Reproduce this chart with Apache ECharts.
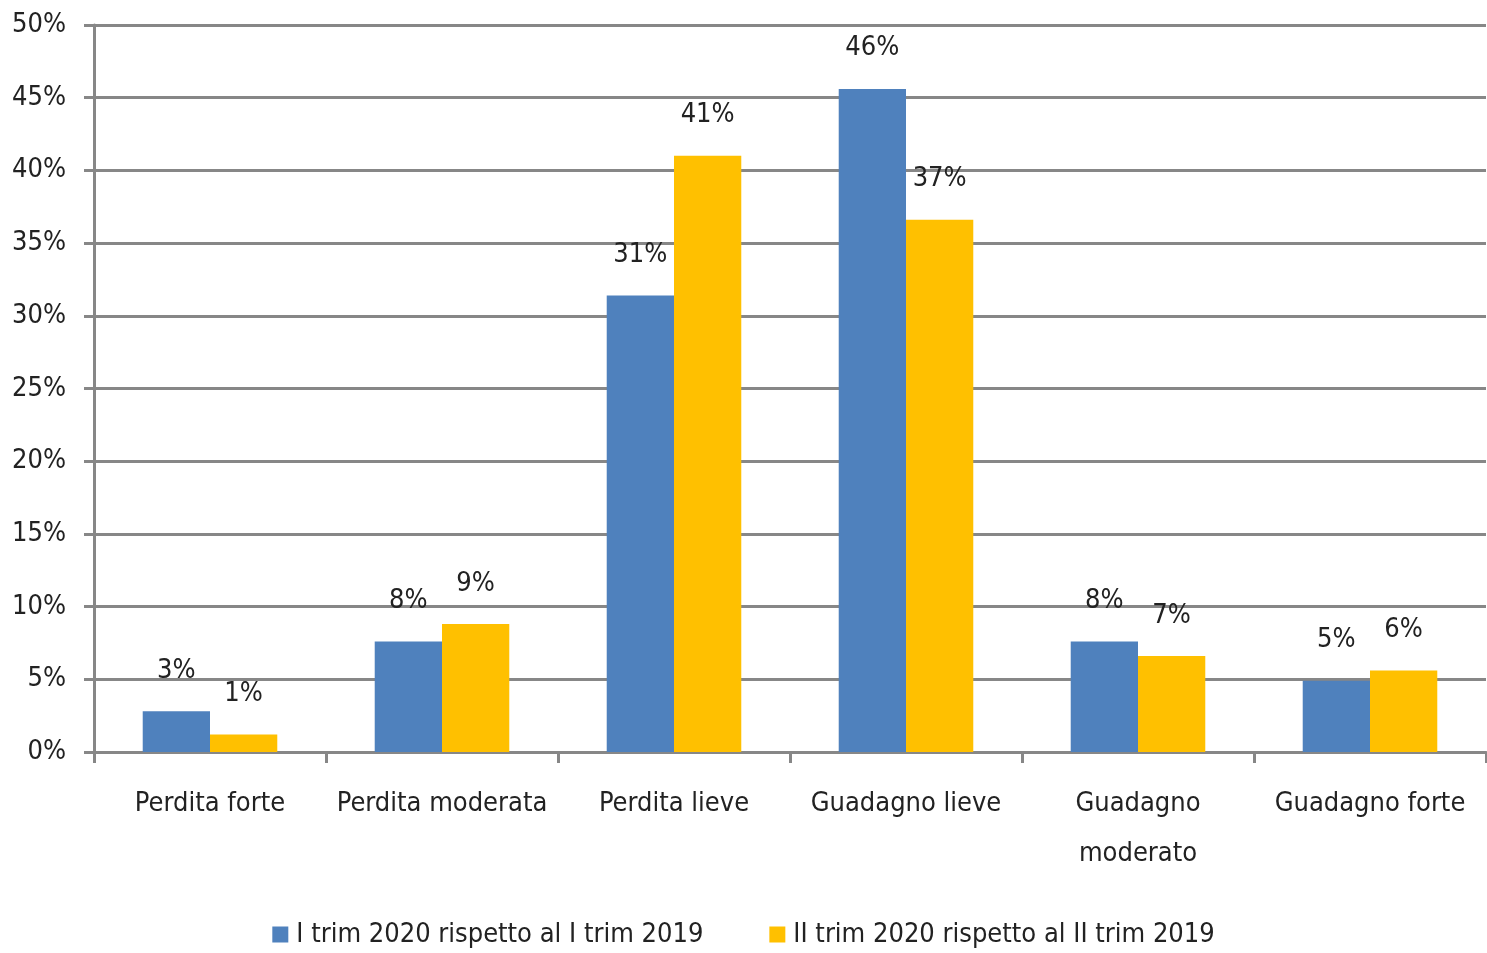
<!DOCTYPE html>
<html><head><meta charset="utf-8">
<script src="https://cdn.jsdelivr.net/npm/echarts@6/dist/echarts.min.js"></script>
<style>html,body{margin:0;padding:0;background:#fff}#c{width:1487px;height:953px}</style>
</head><body><div id="c"></div>
<script>
const categories = ['Perdita forte','Perdita moderata','Perdita lieve','Guadagno lieve','Guadagno\nmoderato','Guadagno forte'];
const seriesNames = ['I trim 2020 rispetto al I trim 2019','II trim 2020 rispetto al II trim 2019'];
const valuesQ1 = [2.8, 7.6, 31.4, 45.6, 7.6, 4.9];
const valuesQ2 = [1.2, 8.8, 41.0, 36.6, 6.6, 5.6];
const labelsQ1 = ['3%','8%','31%','46%','8%','5%'];
const labelsQ2 = ['1%','9%','41%','37%','7%','6%'];
const FONT = '"Liberation Sans Narrow","DejaVu Sans Condensed","Roboto Condensed",sans-serif';
const FS = 27;
const grey = '#878787';
const chart = echarts.init(document.getElementById('c'));
function mk(name, vals, labs, color){
  return {name, type:'bar', data: vals, barGap:'0%', barCategoryGap:'42%',
    itemStyle:{color},
    label:{show:true, position:'top', distance:27, fontFamily:FONT, fontSize:FS, color:'#222',
      formatter:(p)=>labs[p.dataIndex]}};
}
chart.setOption({
  animation:false,
  textStyle:{fontFamily:FONT},
  grid:{left:94, right:1, top:25, bottom:201, containLabel:false},
  legend:{bottom:0, left:'center', itemWidth:16, itemHeight:16, itemGap:66, icon:'rect',
    textStyle:{fontFamily:FONT, fontSize:FS, color:'#222', padding:[0,0,0,3]},
    data:seriesNames},
  xAxis:{type:'category', data:categories,
    axisLine:{lineStyle:{color:grey, width:3}},
    axisTick:{show:true, length:11, lineStyle:{color:grey, width:3}},
    axisLabel:{interval:0, margin:27, fontFamily:FONT, fontSize:FS, color:'#222', lineHeight:50}},
  yAxis:{type:'value', min:0, max:50, interval:5,
    axisLine:{show:true, lineStyle:{color:grey, width:3}},
    axisTick:{show:true, length:10, lineStyle:{color:grey, width:3}},
    splitLine:{lineStyle:{color:grey, width:3}},
    axisLabel:{margin:28, fontFamily:FONT, fontSize:FS, color:'#222', formatter:'{value}%'}},
  series:[mk(seriesNames[0], valuesQ1, labelsQ1, '#4F81BD'), mk(seriesNames[1], valuesQ2, labelsQ2, '#FFC000')]
});
</script></body></html>
